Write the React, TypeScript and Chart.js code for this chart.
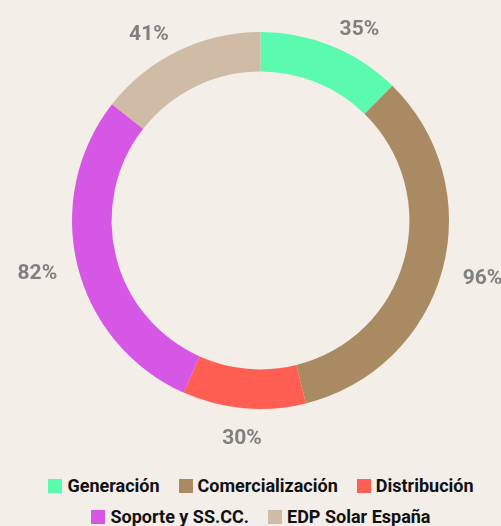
import React, { useEffect, useRef } from "react";
import { Chart, registerables } from "chart.js";

Chart.register(...registerables);

const categories = ["Generación", "Comercialización", "Distribución", "Soporte y SS.CC.", "EDP Solar España"];
const values = [35, 96, 30, 82, 41];
const valueLabels = ["35%", "96%", "30%", "82%", "41%"];
const colors = ["#5AFBAE", "#A98A62", "#FF5F52", "#D656E6", "#CFBBA6"];
const BG = "#F3EEE8";

const outLabels = {
  id: "outLabels",
  afterDatasetsDraw(chart: any) {
    const ctx = chart.ctx;
    const meta = chart.getDatasetMeta(0);
    ctx.save();
    ctx.font = "bold 21px Roboto";
    ctx.fillStyle = "#808080";
    ctx.textBaseline = "middle";
    meta.data.forEach((arc: any, i: number) => {
      const p = arc.getProps(["x", "y", "startAngle", "endAngle", "outerRadius"], true);
      const mid = (p.startAngle + p.endAngle) / 2;
      const dx = Math.cos(mid);
      const dy = Math.sin(mid);
      const r = p.outerRadius + 21;
      let px = p.x + dx * r;
      let py = p.y + dy * r + 3;
      let align: CanvasTextAlign = "center";
      if (dx > 0.2) align = "left";
      else if (dx < -0.2) align = "right";
      else py += dy * 7;
      ctx.textAlign = align;
      ctx.fillText(valueLabels[i], px, py);
    });
    ctx.restore();
  },
};

export default function App() {
  const ref = useRef<HTMLCanvasElement | null>(null);
  useEffect(() => {
    document.body.style.margin = "0";
    document.body.style.background = BG;
    const chart = new Chart(ref.current!, {
      type: "doughnut",
      data: {
        labels: categories,
        datasets: [
          {
            data: values,
            backgroundColor: colors,
            borderWidth: 0,
            hoverOffset: 0,
          },
        ],
      },
      options: {
        animation: false,
        responsive: false,
        cutout: "79%",
        layout: { padding: { left: 20, top: 32, right: 0, bottom: 51 } },
        plugins: {
          legend: { display: false },
          tooltip: { enabled: false },
        },
      },
      plugins: [outLabels],
    });
    return () => chart.destroy();
  }, []);

  return (
    <div style={{ position: "fixed", left: 0, top: 0, width: 501, height: 526, background: BG, overflow: "hidden" }}>
      <canvas ref={ref} width={501} height={460} style={{ position: "absolute", left: 0, top: 0 }} />
      <div
        style={{
          position: "absolute",
          left: 21,
          top: 470,
          width: 480,
          display: "flex",
          flexWrap: "wrap",
          justifyContent: "center",
          columnGap: 19,
          fontFamily: "Roboto",
          fontWeight: "bold",
          fontSize: 18,
          color: "#111",
        }}
      >
        {categories.map((c, i) => (
          <div key={c} style={{ display: "flex", alignItems: "center", height: 31 }}>
            <span style={{ display: "inline-block", width: 14, height: 14, background: colors[i], marginRight: 5 }} />
            <span>{c}</span>
          </div>
        ))}
      </div>
    </div>
  );
}
